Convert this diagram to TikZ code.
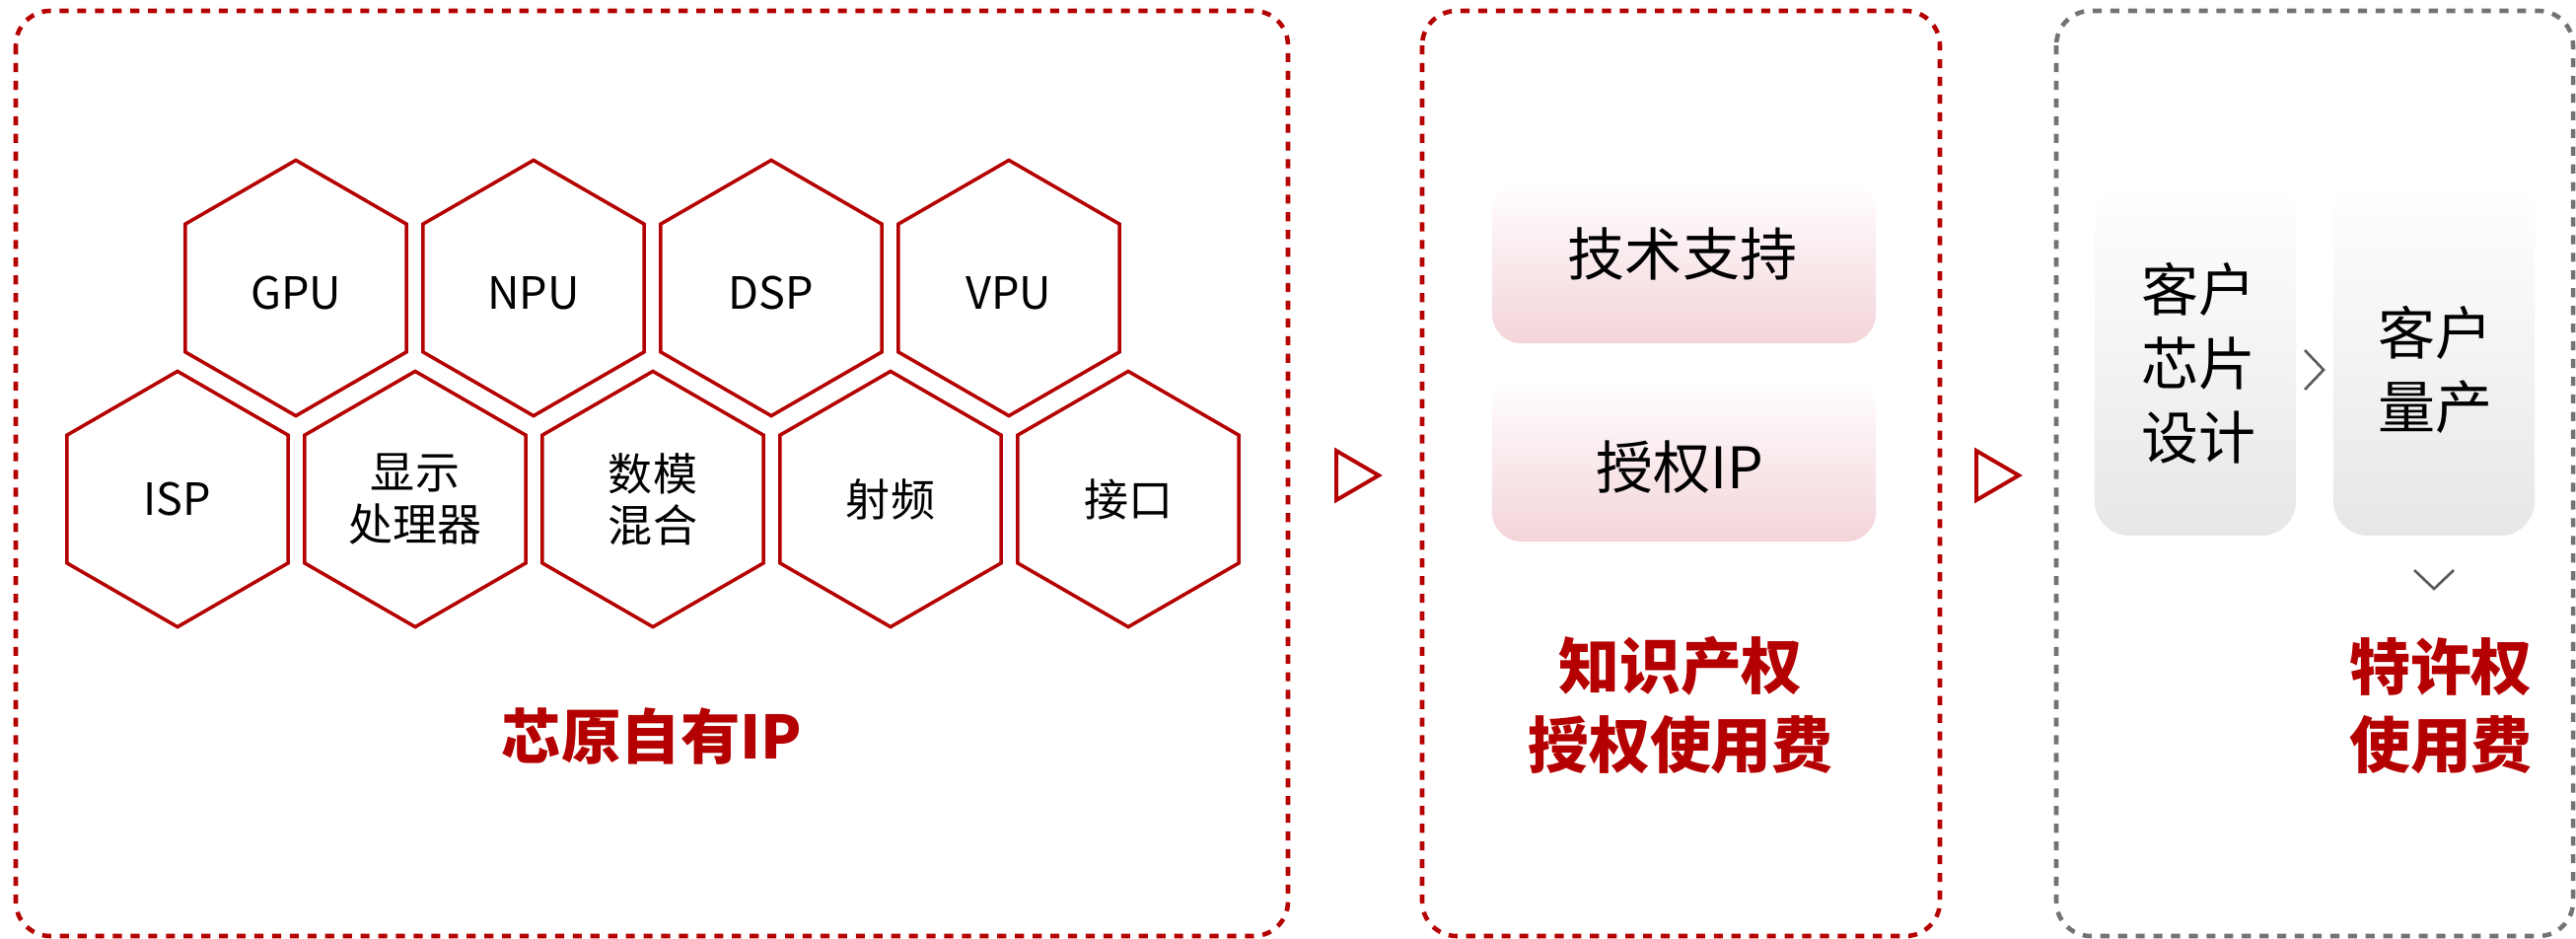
\documentclass[tikz,border=0pt]{standalone}
\usepackage{fontspec}
\setmainfont{Noto Sans CJK SC}
\usetikzlibrary{shapes.geometric,calc}
\definecolor{brandred}{RGB}{180,0,0}
\definecolor{dashgray}{RGB}{115,115,115}
\definecolor{chevgray}{RGB}{90,90,90}
\definecolor{pinkbot}{RGB}{243,212,217}
\definecolor{graybot}{RGB}{231,231,231}
\tikzset{
  panelred/.style={draw=brandred, line width=1.3pt, dash pattern=on 2.6pt off 2.5pt, rounded corners=0.35cm},
  panelgray/.style={draw=dashgray, line width=1.3pt, dash pattern=on 2.6pt off 2.5pt, rounded corners=0.35cm},
  hexnode/.style={regular polygon, regular polygon sides=6, shape border rotate=30,
    minimum size=2.59cm, inner sep=0pt, outer sep=0pt, draw=brandred, line width=1pt,
    align=center, font=\fontsize{12.8pt}{14.8pt}\selectfont, text=black},
  hexlabel/.style={inner sep=0pt, align=center, font=\fontsize{12.8pt}{14.8pt}\selectfont, text=black},
  pinkbox/.style={rectangle, rounded corners=0.3cm, top color=white, bottom color=pinkbot,
    minimum width=3.89cm, minimum height=1.65cm, inner sep=0pt, draw=none},
  graybox/.style={rectangle, rounded corners=0.35cm, top color=white, bottom color=graybot,
    minimum width=2.04cm, minimum height=3.6cm, inner sep=0pt, draw=none},
  boxtext/.style={font=\fontsize{16.5pt}{21.3pt}\selectfont, align=center, inner sep=0pt},
  redtitle/.style={font=\bfseries\fontsize{17.6pt}{22.5pt}\selectfont, text=brandred, align=center, inner sep=0pt},
  tri/.style={draw=brandred, line width=1.1pt, fill=white},
  chev/.style={draw=chevgray, line width=0.75pt},
}
\begin{document}
\begin{tikzpicture}[x=0.01cm,y=-0.01cm]
\useasboundingbox (0,0) rectangle (2612,951);
% panels
\draw[panelred] (16,11) rectangle (1306,949);
\draw[panelred] (1442,11) rectangle (1967,949);
\draw[panelgray] (2085,11) rectangle (2609,949);
% hexagons row 1
\node[hexnode] (gpu) at (300,292) {};
\node[hexnode] (npu) at (541,292) {};
\node[hexnode] (dsp) at (782,292) {};
\node[hexnode] (vpu) at (1023,292) {};
\node[hexlabel] (gput) at ($(gpu.center)+(0,5)$) {GPU};
\node[hexlabel] (nput) at ($(npu.center)+(0,5)$) {NPU};
\node[hexlabel] (dspt) at ($(dsp.center)+(0,5)$) {DSP};
\node[hexlabel] (vput) at ($(vpu.center)+(0,5)$) {VPU};
% hexagons row 2
\node[hexnode] (isp) at (180,506) {ISP};
\node[hexnode] (disp) at (421,506) {显示\\处理器};
\node[hexnode] (mix) at (662,506) {数模\\混合};
\node[hexnode] (rf) at (903,506) {射频};
\node[hexnode] (io) at (1144,506) {接口};
\node[redtitle, font=\bfseries\fontsize{17.2pt}{22pt}\selectfont] (t1) at (661,747) {芯原自有IP};
% arrows between panels
\coordinate (a1) at (1355,457);
\draw[tri] (a1) -- ++(43,25) -- ++(-43,25) -- cycle;
\coordinate (a2) at (2004,457);
\draw[tri] (a2) -- ++(43,25) -- ++(-43,25) -- cycle;
% panel 2
\node[pinkbox] (b1) at (1707.5,265.5) {};
\node[boxtext] (b1t) at (1706,257) {技术支持};
\node[pinkbox] (b2) at (1707.5,466.5) {};
\node[boxtext] (b2t) at (1703,474) {授权IP};
\node[redtitle] (t2) at (1704,715) {知识产权\\授权使用费};
% panel 3
\node[graybox] (g1) at (2226,363) {};
\node[boxtext] (g1t) at (2229,368) {客户\\芯片\\设计};
\node[graybox] (g2) at (2468,363) {};
\node[boxtext] (g2t) at (2469,375) {客户\\量产};
\coordinate (c1) at (2356,375);
\draw[chev] ($(c1)+(-19,-20)$) -- (c1) -- ++(-19,20);
\coordinate (c2) at (2468,597);
\draw[chev] ($(c2)+(-20,-19)$) -- (c2) -- ++(20,-19);
\node[redtitle] (t3) at (2475,716) {特许权\\使用费};
\end{tikzpicture}
\end{document}
